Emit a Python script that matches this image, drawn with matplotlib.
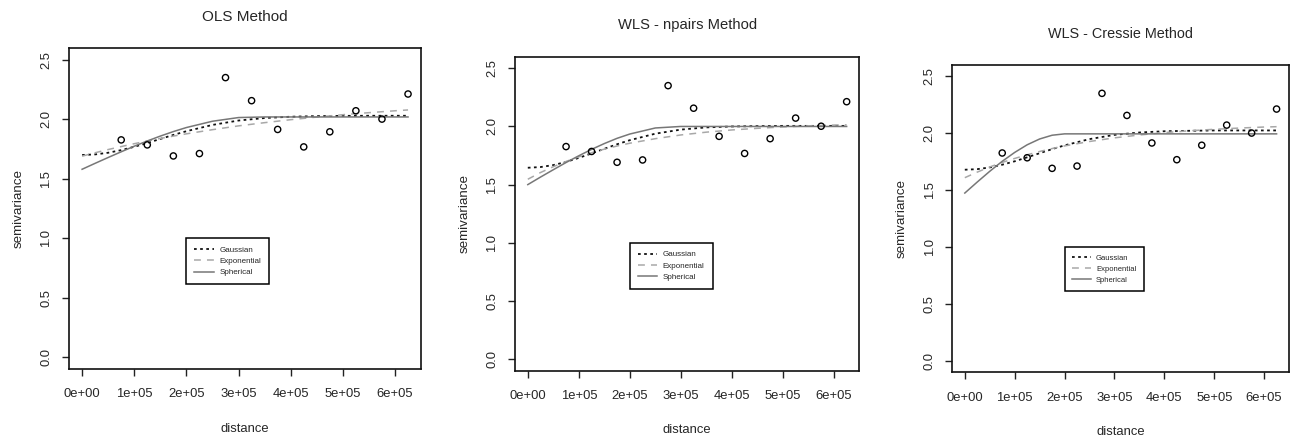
import numpy as np
import matplotlib.pyplot as plt

plt.rcParams['font.family'] = ['Liberation Sans', 'DejaVu Sans']

# empirical semivariogram (same in all three panels)
lag_dist = [75000, 125000, 175000, 225000, 275000, 325000,
            375000, 425000, 475000, 525000, 575000, 625000]
semivar = [1.827, 1.785, 1.692, 1.712, 2.351, 2.157,
           1.915, 1.768, 1.895, 2.072, 2.002, 2.213]

# fitted model curves
curve_dist = [0, 25000, 50000, 75000, 100000, 125000, 150000, 175000, 200000,
              250000, 300000, 350000, 400000, 450000, 500000, 550000, 600000, 625000]

ols_gau = [1.700, 1.705, 1.719, 1.741, 1.769, 1.801, 1.835, 1.869, 1.900,
           1.953, 1.990, 2.011, 2.022, 2.027, 2.029, 2.030, 2.030, 2.030]
ols_exp = [1.690, 1.719, 1.746, 1.771, 1.795, 1.818, 1.839, 1.859, 1.878,
           1.913, 1.945, 1.972, 1.997, 2.019, 2.039, 2.056, 2.072, 2.079]
ols_sph = [1.580, 1.630, 1.679, 1.727, 1.774, 1.818, 1.859, 1.897, 1.931,
           1.984, 2.015, 2.020, 2.020, 2.020, 2.020, 2.020, 2.020, 2.020]

npairs_gau = [1.645, 1.651, 1.668, 1.695, 1.730, 1.768, 1.808, 1.847, 1.882,
              1.938, 1.973, 1.992, 2.000, 2.003, 2.005, 2.005, 2.005, 2.005]
npairs_exp = [1.546, 1.604, 1.654, 1.699, 1.739, 1.774, 1.805, 1.832, 1.856,
              1.895, 1.927, 1.951, 1.970, 1.984, 1.996, 2.005, 2.012, 2.014]
npairs_sph = [1.500, 1.565, 1.628, 1.690, 1.748, 1.803, 1.853, 1.898, 1.935,
              1.987, 2.000, 2.000, 2.000, 2.000, 2.000, 2.000, 2.000, 2.000]

cressie_gau = [1.680, 1.685, 1.700, 1.724, 1.754, 1.789, 1.825, 1.861, 1.894,
               1.949, 1.986, 2.007, 2.018, 2.022, 2.025, 2.025, 2.025, 2.025]
cressie_exp = [1.610, 1.659, 1.704, 1.744, 1.779, 1.811, 1.840, 1.866, 1.889,
               1.928, 1.960, 1.985, 2.006, 2.022, 2.035, 2.046, 2.055, 2.058]
cressie_sph = [1.475, 1.572, 1.666, 1.754, 1.832, 1.899, 1.950, 1.983, 1.995,
               1.995, 1.995, 1.995, 1.995, 1.995, 1.995, 1.995, 1.995, 1.995]

titles = ["OLS Method", "WLS - npairs Method", "WLS - Cressie Method"]
model_names = ["Gaussian", "Exponential", "Spherical"]
x_ticks = [0, 100000, 200000, 300000, 400000, 500000, 600000]
x_tick_labels = ["0e+00", "1e+05", "2e+05", "3e+05", "4e+05", "5e+05", "6e+05"]
y_ticks = [0.0, 0.5, 1.0, 1.5, 2.0, 2.5]
y_tick_labels = ["0.0", "0.5", "1.0", "1.5", "2.0", "2.5"]

fits = [(ols_gau, ols_exp, ols_sph),
        (npairs_gau, npairs_exp, npairs_sph),
        (cressie_gau, cressie_exp, cressie_sph)]

# axes boxes in figure fraction, title size, legend size
boxes = [[0.0532, 0.1537, 0.2712, 0.7362],
         [0.3968, 0.1498, 0.2653, 0.7202],
         [0.7337, 0.1461, 0.2594, 0.7048]]
title_sizes = [11.0, 10.6, 10.4]
legend_sizes = [5.8, 5.8, 5.5]

styles = [dict(color='#111111', lw=1.3, ls=(0, (1.5, 1.9))),
          dict(color='#a8a8a8', lw=1.1, ls=(0, (4.5, 4.0))),
          dict(color='#777777', lw=1.1, ls='-')]

txt_col = '#262626'

fig = plt.figure(figsize=(12.98, 4.36), dpi=100)

for i in range(3):
    ax = fig.add_axes(boxes[i])
    ax.scatter(lag_dist, semivar, s=20, facecolors='none', edgecolors='black',
               linewidths=1.0, zorder=3)
    handles = []
    for curve, st, name in zip(fits[i], styles, model_names):
        h, = ax.plot(curve_dist, curve, label=name, **st)
        handles.append(h)

    ax.set_xlim(-25000, 650000)
    ax.set_ylim(-0.1, 2.6)
    ax.set_xticks(x_ticks)
    ax.set_xticklabels(x_tick_labels)
    ax.set_yticks(y_ticks)
    ax.set_yticklabels(y_tick_labels, rotation=90, va='center')
    ax.tick_params(length=5, width=1.0, colors='#222222', labelsize=9.4,
                   labelcolor=txt_col)
    ax.tick_params(axis='x', pad=9)
    ax.tick_params(axis='y', pad=7)
    for sp in ax.spines.values():
        sp.set_linewidth(1.2)
        sp.set_color('#111111')

    ax.annotate(titles[i], xy=(0.5, 1), xycoords='axes fraction',
                xytext=(0, 22.5), textcoords='offset points',
                ha='center', va='center', fontsize=title_sizes[i], color=txt_col)
    ax.annotate("distance", xy=(0.5, 0), xycoords='axes fraction',
                xytext=(0, -43), textcoords='offset points',
                ha='center', va='center', fontsize=9.4, color=txt_col)
    ax.annotate("semivariance", xy=(0, 0.5), xycoords='axes fraction',
                xytext=(-36.5, 0), textcoords='offset points',
                ha='center', va='center', rotation=90, fontsize=9.6, color=txt_col)

    leg = ax.legend(handles=handles, loc='upper left',
                    bbox_to_anchor=(200000, 1.0),
                    bbox_transform=ax.transData,
                    fontsize=legend_sizes[i], frameon=True, fancybox=False,
                    edgecolor='black', framealpha=1, borderaxespad=0,
                    borderpad=1.0, labelspacing=0.45, handlelength=2.4,
                    handletextpad=0.7)
    leg.get_frame().set_linewidth(1.1)
    for t in leg.get_texts():
        t.set_color(txt_col)

fig.savefig("out.png", dpi=100)
